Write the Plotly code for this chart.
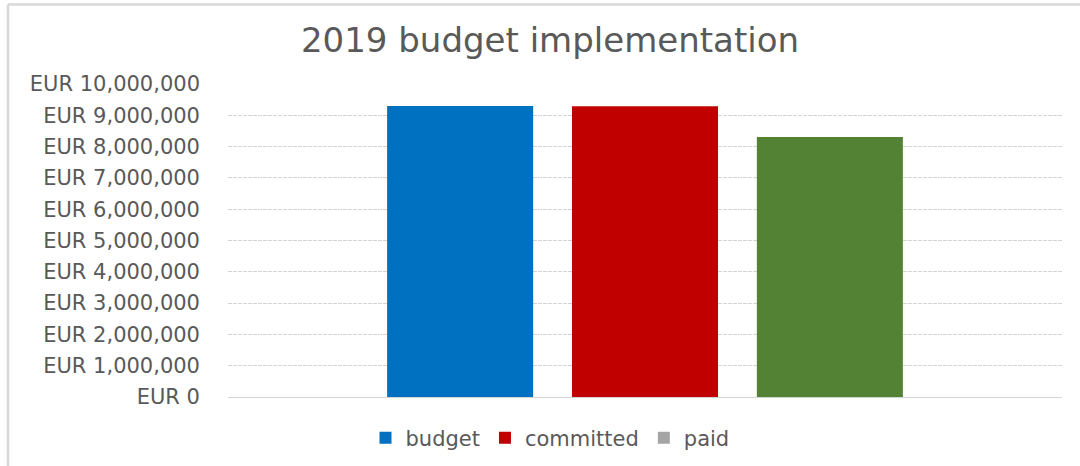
import plotly.graph_objects as go

# ---- data ----
categories = ["2019"]
series_names = ["budget", "committed", "paid"]
budget_values = [9300000]
committed_values = [9290000]
paid_values = [8310000]
legend_colors = ["#0070C0", "#C00000", "#A5A5A5"]
bar_colors = ["#0070C0", "#C00000", "#548235"]
y_ticks = [0, 1000000, 2000000, 3000000, 4000000, 5000000,
           6000000, 7000000, 8000000, 9000000, 10000000]
y_tick_labels = ["EUR " + f"{v:,}" for v in y_ticks]
title_text = "2019 budget implementation"

FONT = "DejaVu Sans"
GRAY = "#595959"

W, H = 1080, 466
L, R, T, B = 228, 18, 84, 69
pw, ph = W - L - R, H - T - B

def px_x(px):
    return (px - L) / pw

def px_y(py):
    return (H - B - py) / ph

fig = go.Figure()
values = [budget_values, committed_values, paid_values]
for i, name in enumerate(series_names):
    show = name != "paid"
    fig.add_trace(go.Bar(
        x=categories, y=values[i], name=name,
        marker=dict(color=bar_colors[i], line=dict(width=0)),
        showlegend=show, legendrank=i + 1,
    ))

# legend entry for "paid" (series colour differs from point colour)
fig.add_trace(go.Scatter(
    x=[None], y=[None], mode="markers", name="paid",
    marker=dict(symbol="square", size=12, color=legend_colors[2]),
    legendrank=3,
))

fig.update_layout(
    width=W, height=H,
    margin=dict(l=L, r=R, t=T, b=B, autoexpand=False),
    paper_bgcolor="white", plot_bgcolor="white",
    barmode="group", bargap=0.335, bargroupgap=0.21,
    title=dict(text=title_text, x=550 / W, xref="container", xanchor="center",
               y=1 - 40 / H, yref="container", yanchor="middle",
               font=dict(family=FONT, size=34, color=GRAY)),
    font=dict(family=FONT, color=GRAY),
    legend=dict(orientation="h", x=px_x(550), xanchor="center",
                y=px_y(438), yanchor="middle",
                font=dict(family=FONT, size=21, color=GRAY),
                itemwidth=30, tracegroupgap=0,
                bgcolor="rgba(0,0,0,0)"),
    xaxis=dict(showticklabels=False, showgrid=False, zeroline=False,
               showline=False, ticks=""),
    yaxis=dict(range=[0, 10000000], tickvals=y_ticks, ticktext=y_tick_labels,
               tickfont=dict(family=FONT, size=21, color=GRAY),
               ticklabelstandoff=27,
               showgrid=True, gridcolor="#D4D4D4", gridwidth=1,
               griddash="4px,1px",
               zeroline=True, zerolinecolor="#D4D4D4", zerolinewidth=1,
               showline=False, ticks=""),
    shapes=[
        dict(type="line", xref="paper", yref="paper",
             x0=px_x(8), x1=px_x(1080), y0=px_y(4.5), y1=px_y(4.5),
             line=dict(color="#D9D9D9", width=2.5)),
        dict(type="line", xref="paper", yref="paper",
             x0=px_x(8), x1=px_x(8), y0=px_y(4.5), y1=px_y(466),
             line=dict(color="#D9D9D9", width=2.5)),
    ],
)

fig.write_html("out.html",
               config={"displayModeBar": False},
               post_script="document.body.style.margin='0';")
